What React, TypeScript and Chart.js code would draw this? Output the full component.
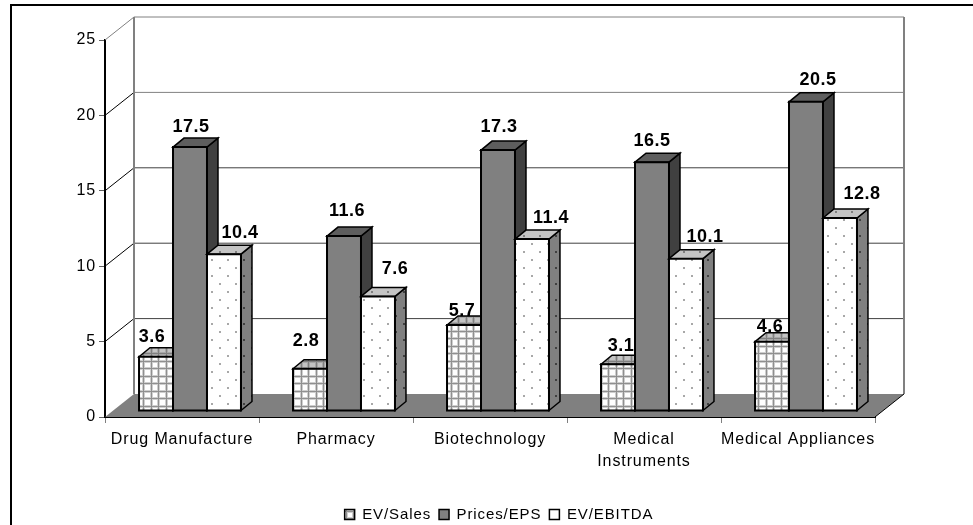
import React, { useEffect, useRef } from "react";
import { Chart, registerables } from "chart.js";

Chart.register(...registerables);

const categories = ["Drug Manufacture", "Pharmacy", "Biotechnology", ["Medical", "Instruments"], "Medical Appliances"];
const evSales = [3.6, 2.8, 5.7, 3.1, 4.6];
const pricesEps = [17.5, 11.6, 17.3, 16.5, 20.5];
const evEbitda = [10.4, 7.6, 11.4, 10.1, 12.8];
const yTicks = [0, 5, 10, 15, 20, 25];

// Label placement relative to each bar's top centre (style, not data)
const labelDx = [
  [-4, -4, -2, 3, -2],
  [1, 3, 1, 0, 12],
  [16, 17, 19, 19, 22],
];
const labelDy = [
  [-20, -28, -14, -18, -15],
  [-20, -25, -23, -21, -22],
  [-21, -27, -21, -22, -24],
];

const FONT = '"Liberation Sans", Arial, sans-serif';
const DX = 8; // shift of bars into the floor
const DY = -6;
const DEPTH_X = 11;
const DEPTH_Y = 9;
const WALL_X = 29;
const WALL_Y = 23;

function pattern(ctx: CanvasRenderingContext2D, kind: "grid" | "dots", bg: string, fg: string, soft?: string) {
  const c = document.createElement("canvas");
  const p = c.getContext("2d")!;
  if (kind === "grid") {
    c.width = 15;
    c.height = 15;
    p.fillStyle = bg;
    p.fillRect(0, 0, 15, 15);
    p.fillStyle = soft || fg;
    [0, 7].forEach((v) => {
      p.fillRect(v, 0, 3, 15);
      p.fillRect(0, v, 15, 3);
    });
    p.fillStyle = fg;
    [1, 8].forEach((v) => {
      p.fillRect(v, 0, 1, 15);
      p.fillRect(0, v, 15, 1);
    });
  } else {
    c.width = 16;
    c.height = 16;
    p.fillStyle = bg;
    p.fillRect(0, 0, 16, 16);
    p.fillStyle = fg;
    p.fillRect(3, 3, 2, 2);
    p.fillRect(11, 11, 2, 2);
  }
  return ctx.createPattern(c, "repeat")!;
}

export default function App() {
  const ref = useRef<HTMLCanvasElement>(null);
  useEffect(() => {
    document.body.style.margin = "0";
    document.body.style.overflow = "hidden";
    const canvas = ref.current!;
    const ctx = canvas.getContext("2d")!;

    const styles = [
      {
        front: pattern(ctx, "grid", "#ffffff", "#909090", "#cfcfcf"),
        top: pattern(ctx, "grid", "#c4c4c4", "#808080", "#a8a8a8"),
        side: pattern(ctx, "grid", "#c4c4c4", "#808080", "#a8a8a8"),
      },
      { front: "#808080", top: "#5e5e5e", side: "#404040" },
      {
        front: pattern(ctx, "dots", "#ffffff", "#a8a8a8"),
        top: pattern(ctx, "dots", "#c4c4c4", "#808080"),
        side: pattern(ctx, "dots", "#808080", "#404040"),
      },
    ];

    const poly = (pts: number[][], fill: any, stroke?: string, lw = 1) => {
      ctx.beginPath();
      pts.forEach((p, i) => (i ? ctx.lineTo(p[0], p[1]) : ctx.moveTo(p[0], p[1])));
      ctx.closePath();
      ctx.fillStyle = fill;
      ctx.fill();
      if (stroke) {
        ctx.strokeStyle = stroke;
        ctx.lineWidth = lw;
        ctx.stroke();
      }
    };
    const line = (x1: number, y1: number, x2: number, y2: number, color: string, lw = 1) => {
      ctx.beginPath();
      ctx.moveTo(x1, y1);
      ctx.lineTo(x2, y2);
      ctx.strokeStyle = color;
      ctx.lineWidth = lw;
      ctx.stroke();
    };

    const scene = {
      id: "scene",
      beforeUpdate() {
        (ctx as any).letterSpacing = "0.9px";
      },
      beforeDatasetsDraw(chart: any) {
        const { left, right } = chart.chartArea;
        const y = chart.scales.y;
        ctx.save();
        (ctx as any).letterSpacing = "0px";
        // outer frame, running past the photographed area on the right and bottom
        ctx.strokeStyle = "#000000";
        ctx.lineWidth = 2;
        ctx.strokeRect(11, 5, 1400, 900);
        const y0 = y.getPixelForValue(0);
        // floor
        poly(
          [
            [left, y0],
            [left + WALL_X, y0 - WALL_Y],
            [right + WALL_X, y0 - WALL_Y],
            [right, y0],
          ],
          "#808080"
        );
        // walls and grid lines
        yTicks.forEach((t) => {
          if (t === 0) return;
          const py = y.getPixelForValue(t);
          const c = t === 25 ? "#808080" : "#000000";
          line(left, py, left + WALL_X, py - WALL_Y, c);
          line(left + WALL_X, py - WALL_Y, right + WALL_X, py - WALL_Y, t === 25 || t === 20 ? "#808080" : "#404040");
        });
        line(left + WALL_X, y.getPixelForValue(25) - WALL_Y, left + WALL_X, y0 - WALL_Y, "#808080", 2);
        line(right + WALL_X, y.getPixelForValue(25) - WALL_Y, right + WALL_X, y0 - WALL_Y, "#808080", 2);
        line(right, y0, right + WALL_X, y0 - WALL_Y, "#000000");

        // bars, left to right so that each front covers its neighbour's side
        categories.forEach((_, i) => {
          chart.data.datasets.forEach((ds: any, d: number) => {
            const el = chart.getDatasetMeta(d).data[i];
            const { x, y: top, base, width } = el.getProps(["x", "y", "base", "width"], true);
            const l = x - width / 2 + DX;
            const r = x + width / 2 + DX;
            const t = top + DY;
            const b = base + DY;
            const s = styles[d];
            poly([[r, b], [r + DEPTH_X, b - DEPTH_Y], [r + DEPTH_X, t - DEPTH_Y], [r, t]], s.side, "#000000", 1.5);
            poly([[l, t], [l + DEPTH_X, t - DEPTH_Y], [r + DEPTH_X, t - DEPTH_Y], [r, t]], s.top, "#000000", 1.5);
            poly([[l, t], [r, t], [r, b], [l, b]], s.front, "#000000", 2);
            ctx.font = `bold 18px ${FONT}`;
            (ctx as any).letterSpacing = "0.5px";
            ctx.fillStyle = "#000000";
            ctx.textAlign = "center";
            ctx.textBaseline = "middle";
            ctx.fillText(ds.data[i].toFixed(1), x + DX + labelDx[d][i], t + labelDy[d][i]);
            (ctx as any).letterSpacing = "0px";
          });
        });
        ctx.restore();
        return false;
      },
    };

    const chart = new Chart(ctx, {
      type: "bar",
      data: {
        labels: categories as any,
        datasets: [
          { label: "EV/Sales", data: evSales, backgroundColor: styles[0].front, borderColor: "#000000", borderWidth: 1.5 },
          { label: "Prices/EPS", data: pricesEps, backgroundColor: styles[1].front, borderColor: "#000000", borderWidth: 1.5 },
          { label: "EV/EBITDA", data: evEbitda, backgroundColor: styles[2].front, borderColor: "#000000", borderWidth: 1.5 },
        ],
      },
      plugins: [scene as any],
      options: {
        responsive: false,
        animation: false,
        events: [],
        layout: { padding: { top: 40, right: 0, left: 0, bottom: 0 } },
        datasets: { bar: { categoryPercentage: 0.662, barPercentage: 1 } },
        plugins: {
          tooltip: { enabled: false },
          legend: {
            position: "bottom",
            labels: {
              boxWidth: 10,
              boxHeight: 10,
              padding: 8,
              color: "#000000",
              font: { family: FONT, size: 15 },
            },
          },
        },
        scales: {
          x: {
            afterFit: (s: any) => {
              s.height = 82;
            },
            border: { color: "#000000", width: 2 },
            grid: { drawOnChartArea: false, drawTicks: true, tickLength: 6, color: "#808080", offset: true },
            ticks: {
              color: "#000000",
              maxRotation: 0,
              autoSkip: false,
              padding: 5,
              font: { family: FONT, size: 16, lineHeight: 1.4 },
            },
          },
          y: {
            min: 0,
            max: 25,
            afterFit: (s: any) => {
              s.width = 105;
            },
            afterBuildTicks: (s: any) => {
              s.ticks = yTicks.map((value) => ({ value }));
            },
            border: { color: "#000000", width: 2 },
            grid: { drawOnChartArea: false, drawTicks: true, tickLength: 6, color: "#606060" },
            ticks: { color: "#000000", padding: 3, font: { family: FONT, size: 16 } },
          },
          spacer: {
            position: "right",
            min: 0,
            max: 1,
            afterFit: (s: any) => {
              s.width = 123;
            },
            afterBuildTicks: (s: any) => {
              s.ticks = [];
            },
            border: { display: false },
            grid: { display: false },
            ticks: { display: false },
          },
        },
      },
    } as any);
    return () => chart.destroy();
  }, []);
  return (
    <div style={{ width: 973, height: 525, overflow: "hidden", position: "relative" }}>
      <canvas ref={ref} width={998} height={532} style={{ width: 998, height: 532, display: "block" }} />
    </div>
  );
}
